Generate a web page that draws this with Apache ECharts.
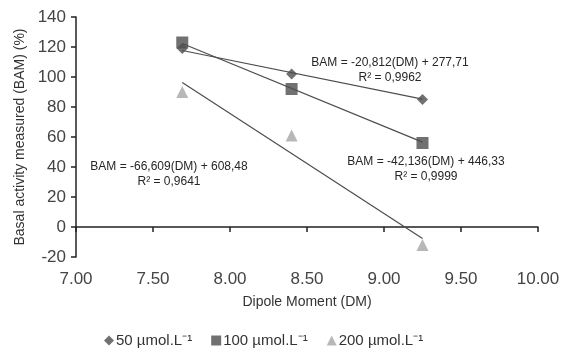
<!DOCTYPE html>
<html>
<head>
<meta charset="utf-8">
<script src="https://cdn.jsdelivr.net/npm/echarts@6/dist/echarts.min.js"></script>
<style>
  html, body { margin: 0; padding: 0; background: #fff; }
  #chart { width: 563px; height: 349px; }
</style>
</head>
<body>
<div id="chart"></div>
<script>
// Dipole moment of the three compounds (x values)
const dipole = [7.69, 8.40, 9.25];

// Basal activity measured (%) per concentration
const names = ["50 µmol.L⁻¹", "100 µmol.L⁻¹", "200 µmol.L⁻¹"];
const bam50 = [119, 102, 85];
const bam100 = [123, 92, 56];
const bam200 = [90, 61, -12];

// Linear fits shown on the chart
const slopes = [-20.812, -42.136, -66.609];
const intercepts = [277.71, 446.33, 608.48];
const fitTexts = [
  ["BAM = -20,812(DM) + 277,71", "R² = 0,9962"],
  ["BAM = -42,136(DM) + 446,33", "R² = 0,9999"],
  ["BAM = -66,609(DM) + 608,48", "R² = 0,9641"],
];

// Axis ticks
const xTicks = { min: 7, max: 10, step: 0.5 };
const yTicks = { min: -20, max: 140, step: 20 };

const dark = "#4d4d4d";
const light = "#a6a6a6";
const axisColor = "#222";
const font = "Liberation Sans, Arial, sans-serif";

function fitLine(i) {
  const x0 = dipole[0], x1 = dipole[dipole.length - 1];
  return [
    [x0, slopes[i] * x0 + intercepts[i]],
    [x1, slopes[i] * x1 + intercepts[i]],
  ];
}

function pts(vals) {
  return dipole.map((d, i) => [d, vals[i]]);
}

var chart = echarts.init(document.getElementById("chart"));

// equation labels, placed by pixel (centre x, top y)
const eqPos = [
  [390, 57, 15],
  [426, 156, 15],
  [169, 161, 15],
];
const eqGraphics = [];
fitTexts.forEach((t, i) => {
  const [cx, top, gap] = eqPos[i];
  t.forEach((line, j) => {
    eqGraphics.push({
      type: "text",
      x: cx,
      y: top + j * gap,
      style: {
        text: line,
        fill: "#262626",
        fontSize: 12,
        fontFamily: font,
        align: "center",
        verticalAlign: "top",
      },
    });
  });
});

chart.setOption({
  backgroundColor: "#fff",
  animation: false,
  grid: { left: 76, right: 25, top: 17, bottom: 92 },
  xAxis: [
    {
      type: "value",
      min: xTicks.min,
      max: xTicks.max,
      interval: xTicks.step,
      axisLine: { show: false, onZero: false },
      axisTick: { show: false },
      splitLine: { show: false },
      axisLabel: {
        color: "#444",
        fontSize: 17,
        fontFamily: font,
        margin: 14,
        formatter: (v) => v.toFixed(2),
      },
      name: "Dipole Moment (DM)",
      nameLocation: "middle",
      nameGap: 38,
      nameTextStyle: { color: "#333", fontSize: 14, fontFamily: font },
    },
    {
      type: "value",
      min: xTicks.min,
      max: xTicks.max,
      interval: xTicks.step,
      position: "bottom",
      axisLine: { show: true, onZero: true, lineStyle: { color: axisColor, width: 1.5 } },
      axisTick: { show: true, length: 5, lineStyle: { color: axisColor, width: 1.5 } },
      axisLabel: { show: false },
      splitLine: { show: false },
    },
  ],
  yAxis: {
    type: "value",
    min: yTicks.min,
    max: yTicks.max,
    interval: yTicks.step,
    axisLine: { show: true, onZero: false, lineStyle: { color: axisColor, width: 1.5 } },
    axisTick: { show: true, length: 5, lineStyle: { color: axisColor, width: 1.5 } },
    splitLine: { show: false },
    axisLabel: { color: "#444", fontSize: 17, fontFamily: font, margin: 10 },
    name: "Basal activity measured (BAM) (%)",
    nameLocation: "middle",
    nameGap: 46,
    nameTextStyle: { color: "#333", fontSize: 14, fontFamily: font },
  },
  legend: {
    top: 333,
    padding: 0,
    left: 104,
    itemGap: 19,
    itemWidth: 10,
    itemHeight: 10,
    data: names,
    textStyle: { color: "#333", fontSize: 15, fontFamily: font, padding: [0, 0, 0, -3] },
  },
  series: [
    {
      name: "fit50", type: "line", data: fitLine(0), symbol: "none",
      lineStyle: { color: dark, width: 1.2 }, silent: true,
    },
    {
      name: "fit100", type: "line", data: fitLine(1), symbol: "none",
      lineStyle: { color: dark, width: 1.2 }, silent: true,
    },
    {
      name: "fit200", type: "line", data: fitLine(2), symbol: "none",
      lineStyle: { color: dark, width: 1.2 }, silent: true,
    },
    {
      name: names[0], type: "scatter", data: pts(bam50),
      symbol: "diamond", symbolSize: 11, itemStyle: { color: dark },
    },
    {
      name: names[1], type: "scatter", data: pts(bam100),
      symbol: "rect", symbolSize: 12, itemStyle: { color: dark },
    },
    {
      name: names[2], type: "scatter", data: pts(bam200),
      symbol: "triangle", symbolSize: 12, itemStyle: { color: light },
    },
  ],
  graphic: eqGraphics,
});
</script>
</body>
</html>
